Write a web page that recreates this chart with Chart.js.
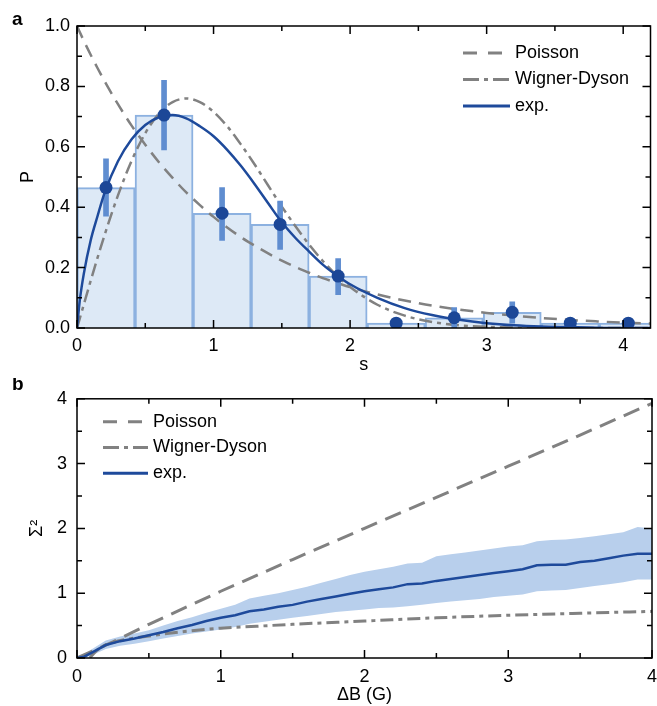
<!DOCTYPE html>
<html>
<head>
<meta charset="utf-8">
<title>Level spacing and number variance</title>
<script src="https://cdn.jsdelivr.net/npm/chart.js@4.4.1/dist/chart.umd.min.js"></script>
<style>
  html, body { margin: 0; padding: 0; background: #fff; }
  #wrap { position: relative; width: 657px; height: 706px; }
  canvas { position: absolute; left: 0; }
  #chartA { top: 0; }
  #chartB { top: 378px; }
</style>
</head>
<body>
<div id="wrap">
  <canvas id="chartA" width="657" height="378"></canvas>
  <canvas id="chartB" width="657" height="328"></canvas>
</div>
<script>
'use strict';

// ---- panel a: nearest-neighbour spacing distribution ----
var binCenters = [0.2125, 0.6375, 1.0625, 1.4875, 1.9125, 2.3375, 2.7625, 3.1875, 3.6125, 4.0375];
var binHeights = [0.465, 0.705, 0.38, 0.343, 0.172, 0.016, 0.034, 0.052, 0.016, 0.016];
var errLow = [0.37, 0.59, 0.29, 0.26, 0.11, 0.005, 0.0, 0.016, 0.005, 0.005];
var errHigh = [0.56, 0.82, 0.465, 0.42, 0.23, 0.027, 0.068, 0.087, 0.027, 0.027];

var sGrid = [0, 0.02, 0.05, 0.1, 0.15, 0.2, 0.3, 0.4, 0.5, 0.6, 0.7, 0.8, 0.9, 1.0, 1.1, 1.2,
  1.3, 1.4, 1.5, 1.6, 1.7, 1.8, 1.9, 2.0, 2.2, 2.4, 2.6, 2.8, 3.0, 3.2, 3.4, 3.6, 3.8, 4.0, 4.2];
var poissonP = [1, 0.980, 0.951, 0.905, 0.861, 0.819, 0.741, 0.670, 0.607, 0.549, 0.497, 0.449,
  0.407, 0.368, 0.333, 0.301, 0.273, 0.247, 0.223, 0.202, 0.183, 0.165, 0.150, 0.135, 0.111,
  0.091, 0.074, 0.061, 0.050, 0.041, 0.033, 0.027, 0.022, 0.018, 0.015];
var wignerP = [0, 0.031, 0.078, 0.156, 0.232, 0.305, 0.439, 0.554, 0.645, 0.710, 0.748, 0.760,
  0.748, 0.716, 0.668, 0.608, 0.542, 0.472, 0.402, 0.337, 0.276, 0.222, 0.175, 0.136, 0.077,
  0.041, 0.020, 0.009, 0.004, 0.0016, 0.0006, 0.0002, 0.0001, 0, 0];
var fitP = [0, 0.09, 0.18, 0.29, 0.37, 0.445, 0.552, 0.625, 0.672, 0.698, 0.705, 0.694, 0.668,
  0.635, 0.59, 0.537, 0.477, 0.413, 0.35, 0.298, 0.253, 0.21, 0.175, 0.145, 0.1, 0.066, 0.043,
  0.027, 0.016, 0.009, 0.005, 0.003, 0.001, 0, 0];

// ---- panel b: number variance vs field window ----
var dB = [0, 0.05, 0.1, 0.2, 0.3, 0.4, 0.5, 0.6, 0.7, 0.8, 0.9, 1.0, 1.1, 1.2, 1.3, 1.4, 1.5,
  1.6, 1.7, 1.8, 1.9, 2.0, 2.1, 2.2, 2.3, 2.4, 2.5, 2.6, 2.7, 2.8, 2.9, 3.0, 3.1, 3.2, 3.3,
  3.4, 3.5, 3.6, 3.7, 3.8, 3.9, 4.0];
var sigmaMean = [0, 0.02, 0.08, 0.2, 0.26, 0.3, 0.35, 0.4, 0.46, 0.51, 0.57, 0.62, 0.66, 0.72,
  0.75, 0.79, 0.82, 0.87, 0.91, 0.95, 0.99, 1.03, 1.06, 1.09, 1.14, 1.15, 1.19, 1.22, 1.25,
  1.28, 1.31, 1.34, 1.37, 1.43, 1.44, 1.44, 1.48, 1.5, 1.54, 1.58, 1.61, 1.61];
var sigmaHigh = [0, 0.06, 0.13, 0.27, 0.33, 0.38, 0.43, 0.5, 0.57, 0.63, 0.7, 0.76, 0.82, 0.92,
  0.96, 1.0, 1.05, 1.1, 1.16, 1.22, 1.28, 1.33, 1.37, 1.41, 1.46, 1.47, 1.57, 1.6, 1.63, 1.66,
  1.69, 1.72, 1.74, 1.8, 1.82, 1.83, 1.85, 1.88, 1.91, 1.94, 2.02, 2.0];
var sigmaLow = [0, 0, 0.04, 0.14, 0.19, 0.22, 0.26, 0.3, 0.34, 0.38, 0.41, 0.44, 0.48, 0.53,
  0.56, 0.59, 0.62, 0.65, 0.68, 0.71, 0.73, 0.75, 0.77, 0.78, 0.8, 0.82, 0.85, 0.87, 0.89,
  0.91, 0.94, 0.96, 0.98, 1.03, 1.04, 1.05, 1.08, 1.11, 1.14, 1.17, 1.21, 1.21];
var poissonB = [0, 0.25, 0.5, 1.0, 1.5, 2.0, 2.5, 3.0, 3.5, 4.0];
var poissonSigma = [0, 0.25, 0.52, 1.03, 1.52, 2.0, 2.48, 2.96, 3.44, 3.93];
var wignerB = [0.09, 0.12, 0.18, 0.25, 0.35, 0.5, 0.75, 1.0, 1.25, 1.5, 2.0, 2.5, 3.0, 3.5, 4.0];
var wignerSigma = [0, 0.08, 0.18, 0.24, 0.29, 0.34, 0.41, 0.46, 0.49, 0.52, 0.57, 0.62, 0.66, 0.69, 0.72];

var keyLabels = ['Poisson', 'Wigner-Dyson', 'exp.'];

var FONT = '"Liberation Sans", Arial, sans-serif';
var GRAY = '#818181';
var BLUE = '#1e4a9b';
var DASH = [13, 8];
var DASHDOT = [13, 5, 4, 5];

function pairs(xs, ys) {
  return xs.map(function (x, i) { return { x: x, y: ys[i] }; });
}

// inward ticks on all four sides plus a closed frame
function markTicks(scale, minor, major, draw) {
  var n = Math.floor((scale.max - scale.min) / minor + 1e-6);
  for (var i = 0; i <= n; i++) {
    var v = scale.min + i * minor;
    var isMajor = Math.abs(v / major - Math.round(v / major)) < 1e-6;
    draw(scale.getPixelForValue(v), isMajor ? 8 : 5);
  }
}

var frameTicks = {
  id: 'frameTicks',
  afterDatasetsDraw: function (chart, args, opts) {
    var ctx = chart.ctx;
    var area = chart.chartArea;
    ctx.save();
    ctx.strokeStyle = '#000';
    ctx.lineWidth = 1.5;
    ctx.beginPath();
    markTicks(chart.scales.x, opts.xMinor, opts.xMajor, function (px, len) {
      ctx.moveTo(px, area.bottom); ctx.lineTo(px, area.bottom - len);
      ctx.moveTo(px, area.top); ctx.lineTo(px, area.top + len);
    });
    markTicks(chart.scales.y, opts.yMinor, opts.yMajor, function (py, len) {
      ctx.moveTo(area.left, py); ctx.lineTo(area.left + len, py);
      ctx.moveTo(area.right, py); ctx.lineTo(area.right - len, py);
    });
    ctx.stroke();
    ctx.strokeRect(area.left, area.top, area.right - area.left, area.bottom - area.top);
    ctx.restore();
  }
};

var lineKey = {
  id: 'lineKey',
  afterDraw: function (chart, args, opts) {
    var ctx = chart.ctx;
    var styles = [
      { color: GRAY, dash: [14, 11] },
      { color: GRAY, dash: [16, 5, 4, 5] },
      { color: BLUE, dash: [] }
    ];
    ctx.save();
    ctx.font = '18px ' + FONT;
    ctx.textBaseline = 'middle';
    ctx.fillStyle = '#000';
    keyLabels.forEach(function (label, i) {
      var y = opts.y + i * opts.rowGap;
      ctx.beginPath();
      ctx.setLineDash(styles[i].dash);
      ctx.strokeStyle = styles[i].color;
      ctx.lineWidth = 3;
      ctx.moveTo(opts.x, y);
      ctx.lineTo(opts.x + opts.len, y);
      ctx.stroke();
      ctx.fillText(label, opts.x + opts.len + 5, y);
    });
    ctx.restore();
  }
};

var panelTag = {
  id: 'panelTag',
  afterDraw: function (chart, args, opts) {
    var ctx = chart.ctx;
    ctx.save();
    ctx.font = 'bold 19px ' + FONT;
    ctx.fillStyle = '#000';
    ctx.textBaseline = 'alphabetic';
    ctx.fillText(opts.text, 12, opts.y);
    ctx.restore();
  }
};

function fixWidth(w) { return function (scale) { scale.width = w; }; }
// fixed axis height; the last tick label may run into the right margin
function fixHeight(h) {
  return function (scale) {
    scale.height = h;
    scale.paddingRight = 0;
  };
}

var tickFont = { family: FONT, size: 18 };

// ---- chart a ----
var ctxA = document.getElementById('chartA').getContext('2d');
var chartA = new Chart(ctxA, {
  type: 'bar',
  data: {
    datasets: [{
      type: 'bar',
      data: pairs(binCenters, binHeights),
      backgroundColor: '#dde9f6',
      borderColor: '#8cb1e0',
      borderWidth: 2,
      barPercentage: 1,
      categoryPercentage: 1,
      grouped: false,
      order: 6
    }, {
      type: 'line',
      data: pairs(sGrid, poissonP),
      borderColor: GRAY,
      borderWidth: 2.5,
      borderDash: DASH,
      pointRadius: 0,
      cubicInterpolationMode: 'monotone',
      order: 5
    }, {
      type: 'line',
      data: pairs(sGrid, wignerP),
      borderColor: GRAY,
      borderWidth: 2.5,
      borderDash: DASHDOT,
      pointRadius: 0,
      cubicInterpolationMode: 'monotone',
      order: 4
    }, {
      type: 'bar',
      data: binCenters.map(function (x, i) { return { x: x, y: [errLow[i], errHigh[i]] }; }),
      backgroundColor: '#5f8dd0',
      barThickness: 5,
      grouped: false,
      order: 3
    }, {
      type: 'line',
      data: pairs(sGrid, fitP),
      borderColor: BLUE,
      borderWidth: 2.5,
      pointRadius: 0,
      cubicInterpolationMode: 'monotone',
      order: 2
    }, {
      type: 'scatter',
      data: pairs(binCenters, binHeights),
      backgroundColor: '#1c4797',
      borderWidth: 0,
      pointRadius: 6.5,
      order: 1
    }]
  },
  options: {
    responsive: false,
    animation: false,
    layout: { padding: { top: 26, right: 5, left: 0, bottom: 0 } },
    plugins: {
      legend: { display: false },
      tooltip: { enabled: false },
      frameTicks: { xMajor: 1, xMinor: 0.5, yMajor: 0.2, yMinor: 0.1 },
      lineKey: { x: 463, y: 53, rowGap: 26.5, len: 47 },
      panelTag: { text: 'a', y: 25 }
    },
    scales: {
      x: {
        type: 'linear',
        offset: false,
        min: 0,
        max: 4.2,
        grid: { display: false, drawTicks: false, tickLength: 0 },
        border: { display: false },
        ticks: { stepSize: 1, includeBounds: false, padding: 7, color: '#000', font: tickFont },
        title: { display: true, text: 's', color: '#000', font: tickFont, padding: { top: 0, bottom: 2 } },
        afterFit: fixHeight(50)
      },
      y: {
        min: 0,
        max: 1,
        grid: { display: false, drawTicks: false, tickLength: 0 },
        border: { display: false },
        ticks: {
          stepSize: 0.2, padding: 7, color: '#000', font: tickFont,
          callback: function (v) { return v.toFixed(1); }
        },
        title: { display: true, text: 'P', color: '#000', font: tickFont, padding: { top: 17, bottom: 0 } },
        afterFit: fixWidth(77)
      }
    }
  },
  plugins: [frameTicks, lineKey, panelTag]
});

// ---- chart b ----
var ctxB = document.getElementById('chartB').getContext('2d');
var chartB = new Chart(ctxB, {
  type: 'line',
  data: {
    datasets: [{
      data: pairs(dB, sigmaHigh),
      borderWidth: 0,
      pointRadius: 0,
      backgroundColor: '#b8cfec',
      fill: '+1',
      order: 5
    }, {
      data: pairs(dB, sigmaLow),
      borderWidth: 0,
      pointRadius: 0,
      fill: false,
      order: 5
    }, {
      data: pairs(poissonB, poissonSigma),
      borderColor: GRAY,
      borderWidth: 3,
      borderDash: [17, 9],
      pointRadius: 0,
      order: 3
    }, {
      data: pairs(wignerB, wignerSigma),
      borderColor: GRAY,
      borderWidth: 3,
      borderDash: DASHDOT,
      pointRadius: 0,
      cubicInterpolationMode: 'monotone',
      order: 3
    }, {
      data: pairs(dB, sigmaMean),
      borderColor: BLUE,
      borderWidth: 2.5,
      pointRadius: 0,
      order: 1
    }]
  },
  options: {
    responsive: false,
    animation: false,
    layout: { padding: { top: 15, right: 5, left: 0, bottom: 0 } },
    plugins: {
      legend: { display: false },
      tooltip: { enabled: false },
      frameTicks: { xMajor: 1, xMinor: 0.5, yMajor: 1, yMinor: 0.5 },
      lineKey: { x: 103, y: 43.7, rowGap: 25.8, len: 45 },
      panelTag: { text: 'b', y: 12 }
    },
    scales: {
      x: {
        type: 'linear',
        min: 0,
        max: 4,
        grid: { display: false, drawTicks: false, tickLength: 0 },
        border: { display: false },
        ticks: { stepSize: 1, padding: 8, color: '#000', font: tickFont },
        title: { display: true, text: 'ΔB (G)', color: '#000', font: tickFont, padding: { top: 0, bottom: 0 } },
        afterFit: fixHeight(48)
      },
      y: {
        min: 0,
        max: 4,
        grid: { display: false, drawTicks: false, tickLength: 0 },
        border: { display: false },
        ticks: { stepSize: 1, padding: 10, color: '#000', font: tickFont },
        title: { display: true, text: 'Σ²', color: '#000', font: tickFont, padding: { top: 26, bottom: 0 } },
        afterFit: fixWidth(77)
      }
    }
  },
  plugins: [frameTicks, lineKey, panelTag]
});
</script>
</body>
</html>
